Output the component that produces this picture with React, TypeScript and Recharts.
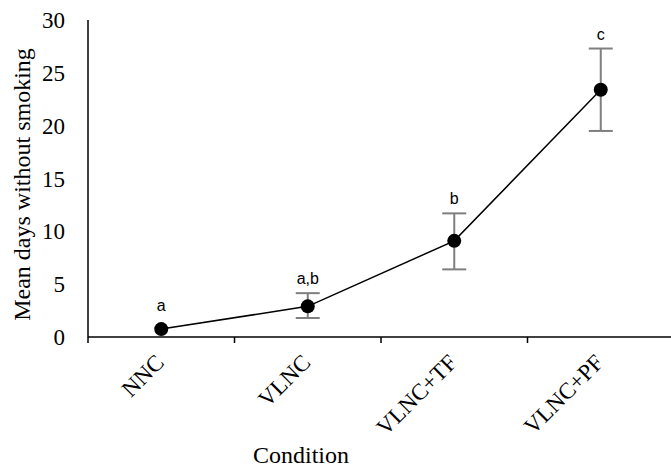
import React from "react";
import { LineChart, Line, XAxis, YAxis, ErrorBar, LabelList } from "recharts";

const categories = ["NNC", "VLNC", "VLNC+TF", "VLNC+PF"];
const means = [0.75, 2.9, 9.1, 23.4];
// NNC bar is hidden behind its marker in the original
const errLow = [null, 1.1, 2.7, 3.9];
const errHigh = [null, 1.25, 2.6, 3.9];
const sigLetters = ["a", "a,b", "b", "c"];
const yTicks = [0, 5, 10, 15, 20, 25, 30];

// numeric x so ticks can sit on the category boundaries
const data = categories.map((c, i) => ({
  x: i + 0.5,
  name: c,
  mean: means[i],
  err: errLow[i] == null ? null : [errLow[i], errHigh[i]],
  // letters sit above the error bar, but never inside the marker
  top: means[i] + Math.max(errHigh[i] ?? 0, 0.85),
  sig: sigLetters[i],
}));

const xTicks = [0, 0.5, 1, 1.5, 2, 2.5, 3, 3.5, 4];
const serif = "'Liberation Serif', 'Times New Roman', serif";
const sans = "'Liberation Sans', Arial, sans-serif";

const XTick = (props: any) => {
  const { x, y, payload } = props;
  const v = payload.value as number;
  if (Number.isInteger(v)) {
    return <line x1={x} y1={y} x2={x} y2={y + 6} stroke="#000" strokeWidth={1.5} />;
  }
  return (
    <text
      transform={`translate(${x + 4},${y + 27}) rotate(-45)`}
      textAnchor="end"
      fontFamily={serif}
      fontSize={23}
      fill="#000"
    >
      {categories[Math.floor(v)]}
    </text>
  );
};

export default function App() {
  return (
    <div style={{ position: "absolute", left: 0, top: 0 }}>
      <style>{"body{margin:0}"}</style>
      <LineChart width={671} height={471} data={data} margin={{ top: 20, right: -3, bottom: 0, left: 0 }}>
        <XAxis
          dataKey="x"
          type="number"
          domain={[0, 4]}
          ticks={xTicks}
          interval={0}
          tick={<XTick />}
          tickLine={false}
          tickSize={0}
          tickMargin={0}
          height={134}
          axisLine={{ stroke: "#000", strokeWidth: 1.5 }}
          label={{
            content: (p: any) => (
              <text
                x={p.viewBox.x + 213}
                y={463}
                textAnchor="middle"
                fontFamily={serif}
                fontSize={24}
                fill="#000"
              >
                Condition
              </text>
            ),
          }}
        />
        <YAxis
          type="number"
          domain={[0, 30]}
          ticks={yTicks}
          width={88}
          tickLine={false}
          tickMargin={17}
          tick={{ fontFamily: serif, fontSize: 23, fill: "#000" }}
          axisLine={{ stroke: "#000", strokeWidth: 1.5 }}
          label={{
            content: (p: any) => (
              <text
                transform={`translate(${22},${p.viewBox.y + p.viewBox.height / 2 + 6}) rotate(-90)`}
                textAnchor="middle"
                dominantBaseline="central"
                fontFamily={serif}
                fontSize={24}
                fill="#000"
              >
                Mean days without smoking
              </text>
            ),
          }}
        />
        <Line
          dataKey="mean"
          stroke="#000"
          strokeWidth={1.5}
          dot={{ r: 7, fill: "#000", stroke: "#000", strokeWidth: 0 }}
          activeDot={false}
          isAnimationActive={false}
        >
          <ErrorBar dataKey="err" direction="y" width={12} stroke="#7f7f7f" strokeWidth={2} />
        </Line>
        <Line
          dataKey="top"
          stroke="none"
          dot={false}
          activeDot={false}
          legendType="none"
          isAnimationActive={false}
        >
          <LabelList
            dataKey="sig"
            position="top"
            offset={9}
            fontFamily={sans}
            fontSize={16}
            fill="#000"
          />
        </Line>
      </LineChart>
    </div>
  );
}
